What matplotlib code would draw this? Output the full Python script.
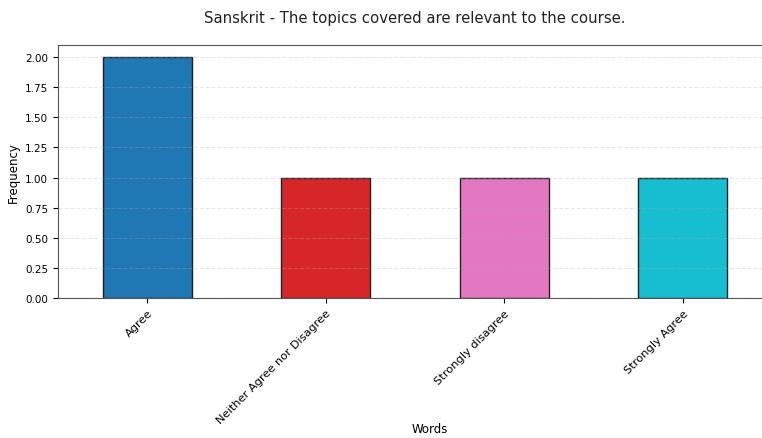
import matplotlib
matplotlib.use("Agg")
import matplotlib.pyplot as plt

categories = ["Agree", "Neither Agree nor Disagree", "Strongly disagree", "Strongly Agree"]
counts = [2, 1, 1, 1]
colors = ["#1f77b4", "#d62728", "#e377c2", "#17becf"]
title = "Sanskrit - The topics covered are relevant to the course."

fig = plt.figure(figsize=(7.62, 4.39), dpi=100)
W, H = 762, 439
ax = fig.add_axes([58 / W, 1 - 299 / H, 714 / W, (299 - 46) / H])
x = range(len(categories))
ax.bar(x, counts, width=0.5, color=colors, edgecolor="#222222", linewidth=1)
ax.set_xlim(-0.5, len(categories) - 0.5)
ax.set_ylim(0, 2.1)
ax.set_yticks([0, 0.25, 0.5, 0.75, 1.0, 1.25, 1.5, 1.75, 2.0])
ax.set_yticklabels([f"{v:.2f}" for v in ax.get_yticks()], fontsize=7.5)
ax.set_xticks(list(x))
ax.set_xticklabels(categories, rotation=45, ha="right", rotation_mode="anchor", fontsize=8.2)
ax.grid(axis="y", linestyle="--", alpha=0.3)
for s in ax.spines.values():
    s.set_color("#555555")
ax.set_ylabel("Frequency", fontsize=8.5)
ax.set_xlabel("Words", fontsize=8.5, va="center")
ax.xaxis.set_label_coords((430 - 58) / 714, -(430 - 299) / 253)
fig.text(415 / W, 1 - 19 / H, title, ha="center", va="center", fontsize=10.7, color="#222222")
fig.savefig("out.png", dpi=100)
